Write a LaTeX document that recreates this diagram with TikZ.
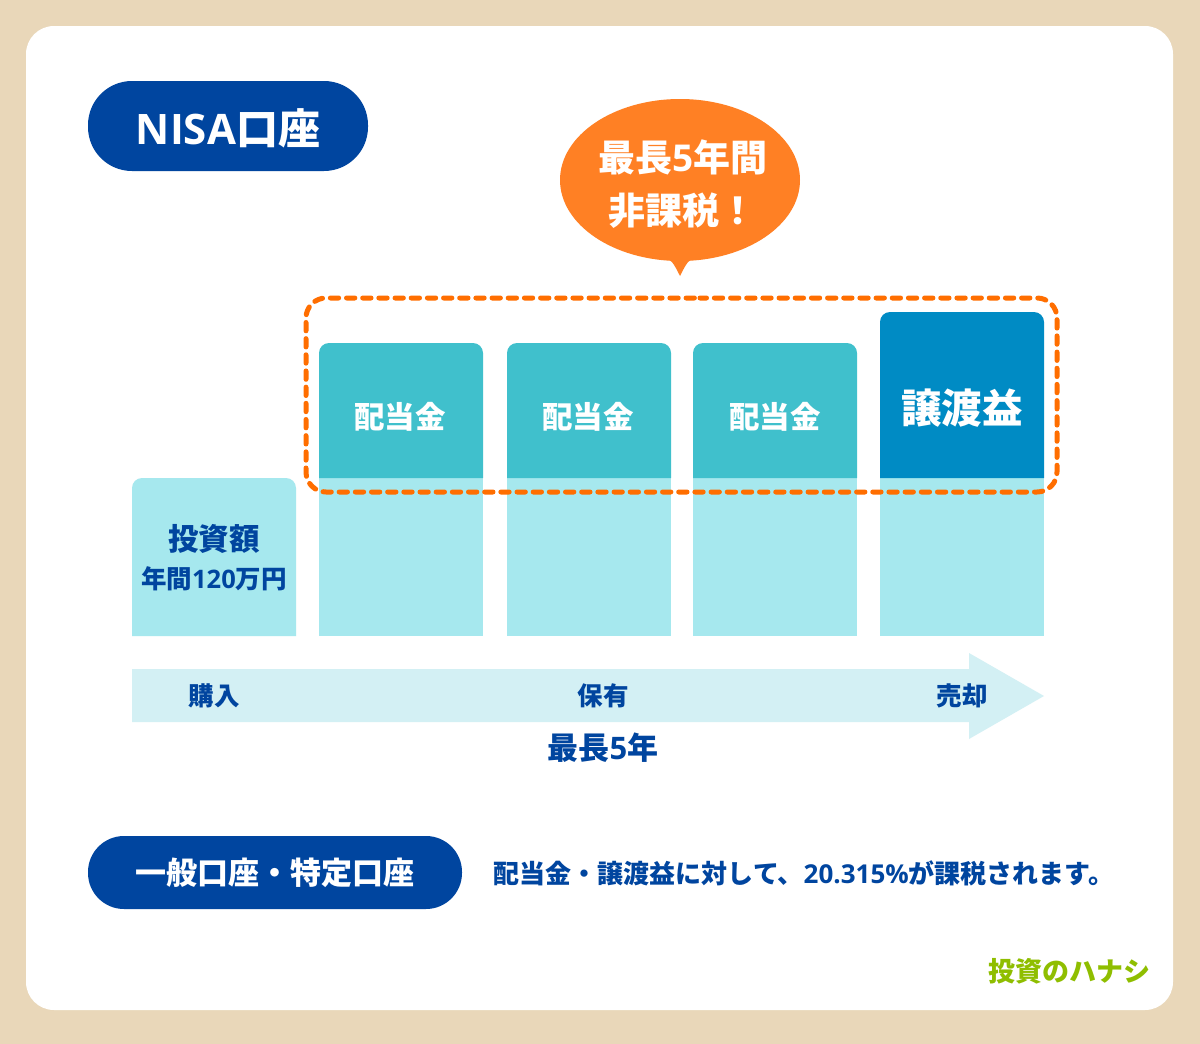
\documentclass[tikz,border=0pt]{standalone}
\usepackage{fontspec}
\setmainfont{Noto Sans CJK JP}
\newfontfamily\lat{Open Sans}
\definecolor{bgc}{HTML}{E9D7B9}
\definecolor{navy}{HTML}{00459F}
\definecolor{org}{HTML}{FF8024}
\definecolor{dashc}{HTML}{FF6E00}
\definecolor{teal}{HTML}{40C0CC}
\definecolor{lite}{HTML}{A6E8EE}
\definecolor{blu}{HTML}{008BC4}
\definecolor{arr}{HTML}{D3F0F4}
\definecolor{grn}{HTML}{8FBE00}
\newcommand{\fs}[1]{\fontsize{#1}{#1}\selectfont\bfseries}
\tikzset{
 x=1pt,y=-1pt,
 lab/.style={inner sep=0pt,outer sep=0pt,anchor=center},
 pill/.style={fill=navy,rounded corners=#1}
}
\begin{document}
\begin{tikzpicture}
\useasboundingbox (0,0) rectangle (1200,1044);
\fill[bgc] (0,0) rectangle (1200,1044);
\fill[white,rounded corners=28pt] (26,26) rectangle (1173,1010);
% pills
\fill[pill=44pt] (88,81) rectangle (368,171);
\node[lab,text=white] (nisa) at (228,128) {\fs{42}{\lat NISA}口座};
\fill[pill=36pt] (88,836) rectangle (462,909);
\node[lab,text=white] (gen) at (275,873) {\fs{31}一般口座・特定口座};
\node[lab,text=navy] (note) at (804,873) {\fs{26}配当金・譲渡益に対して、{\lat 20.315\%}が課税されます。};
% bubble
\fill[org] (680,180) ellipse [x radius=120, y radius=81];
\fill[org] (664,258) .. controls (671,259) and (673,262) .. (680,276) .. controls (687,262) and (689,259) .. (696,258) -- cycle;
\node[lab,text=white] (b1) at (683,157) {\fs{37}最長{\lat 5}年間};
\node[lab,text=white] (b2) at (682,211) {\fs{37}非課税！};
% bars
\fill[lite] (132,636) [rounded corners=10pt] -- (132,478) -- (296,478) -- (296,560) [sharp corners] -- (296,636) -- cycle;
\fill[lite] (319,470) rectangle (483,636);
\fill[lite] (507,470) rectangle (671,636);
\fill[lite] (693,470) rectangle (857,636);
\fill[lite] (880,470) rectangle (1044,636);
\fill[teal] (319,478) [rounded corners=10pt] -- (319,343) -- (483,343) -- (483,420) [sharp corners] -- (483,478) -- cycle;
\fill[teal] (507,478) [rounded corners=10pt] -- (507,343) -- (671,343) -- (671,420) [sharp corners] -- (671,478) -- cycle;
\fill[teal] (693,478) [rounded corners=10pt] -- (693,343) -- (857,343) -- (857,420) [sharp corners] -- (857,478) -- cycle;
\fill[blu] (880,478) [rounded corners=10pt] -- (880,312) -- (1044,312) -- (1044,420) [sharp corners] -- (1044,478) -- cycle;
\node[lab,text=navy] (inv1) at (214,539) {\fs{30.5}投資額};
\node[lab,text=navy] (inv2) at (214,579) {\fs{25.5}年間{\lat 120}万円};
\node[lab,text=white] (d1) at (400,417) {\fs{30.5}配当金};
\node[lab,text=white] (d2) at (588,417) {\fs{30.5}配当金};
\node[lab,text=white] (d3) at (775,417) {\fs{30.5}配当金};
\node[lab,text=white] (jt) at (962,408) {\fs{40.5}譲渡益};
% dashed frame
\draw[dashc,line width=5pt,line cap=round,dash pattern=on 8.3pt off 7.87pt,dash phase=1.8pt,rounded corners=20pt] (680,298) -- (1057,298) -- (1057,492) -- (306,492) -- (306,298) -- cycle;
% arrow
\fill[arr] (132,669) -- (969,669) -- (969,653) -- (1044,696) -- (969,739) -- (969,722) -- (132,722) -- cycle;
\node[lab,text=navy] (a1) at (214,696) {\fs{25.5}購入};
\node[lab,text=navy] (a2) at (603,696) {\fs{25.5}保有};
\node[lab,text=navy] (a3) at (962,696) {\fs{25.5}売却};
\node[lab,text=navy] (a4) at (603,748) {\fs{31}最長{\lat 5}年};
\node[lab,text=grn] (logo) at (1069,971) {\fs{27}投資のハナシ};
\end{tikzpicture}
\end{document}
